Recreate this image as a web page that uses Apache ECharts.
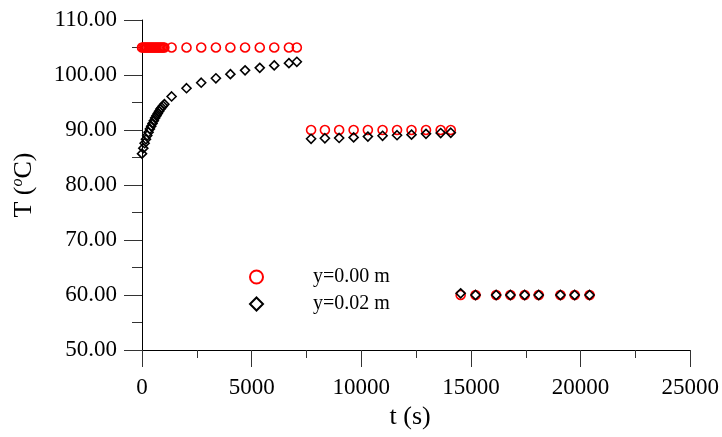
<!DOCTYPE html>
<html>
<head>
<meta charset="utf-8">
<script src="https://cdn.jsdelivr.net/npm/echarts@6/dist/echarts.min.js"></script>
<style>
  html, body { margin: 0; padding: 0; background: #fff; }
  #chart { width: 722px; height: 437px; }
</style>
</head>
<body>
<div id="chart"></div>
<script>
// time (s), shared by both probes
var timeS = [0, 60, 120, 180, 240, 300, 360, 420, 480, 540, 600, 660, 720, 780, 840, 900, 960, 1020,
  1350, 2030, 2700, 3370, 4030, 4700, 5370, 6030, 6700, 7060,
  7710, 8340, 8990, 9650, 10300, 10970, 11630, 12290, 12950, 13620, 14080,
  14530, 15210, 16150, 16800, 17450, 18090, 19080, 19730, 20410];
// temperature at y=0.00 m
var tempY0 = [105, 105, 105, 105, 105, 105, 105, 105, 105, 105, 105, 105, 105, 105, 105, 105, 105, 105,
  105, 105, 105, 105, 105, 105, 105, 105, 105, 105,
  90, 90, 90, 90, 90, 90, 90, 90, 90, 90, 90,
  60, 60, 60, 60, 60, 60, 60, 60, 60];
// temperature at y=0.02 m
var tempY2 = [85.7, 86.7, 87.6, 88.3, 89.0, 89.6, 90.2, 90.7, 91.2, 91.7, 92.2, 92.6, 93.0, 93.4, 93.8, 94.1, 94.4, 94.7,
  96.1, 97.6, 98.6, 99.4, 100.15, 100.85, 101.3, 101.75, 102.15, 102.4,
  88.4, 88.5, 88.55, 88.65, 88.8, 88.95, 89.05, 89.15, 89.3, 89.45, 89.5,
  60.3, 60, 60, 60, 60, 60, 60, 60, 60];
var seriesNames = ['y=0.00 m', 'y=0.02 m'];
var yTicks = [50, 110, 10];
var xTicks = [0, 25000, 5000];

function pairs(xs, ys) {
  var rs = [];
  for (var i = 0; i < xs.length; i++) rs.push([xs[i], ys[i]]);
  return rs;
}

var FONT = '"Liberation Serif", "Times New Roman", serif';
var ec = echarts.init(document.getElementById('chart'));
ec.setOption({
  animation: false,
  textStyle: { fontFamily: FONT },
  grid: { left: 142, right: 30, top: 20, bottom: 87 },
  legend: {
    orient: 'vertical',
    left: 244,
    top: 262,
    itemWidth: 13,
    itemHeight: 13,
    itemGap: 7,
    textStyle: {
      fontFamily: FONT,
      fontSize: 20,
      color: '#000',
      rich: { gap: { width: 45 } }
    },
    formatter: function (name) { return '{gap|}' + name; },
    data: [{ name: seriesNames[0], icon: 'circle' }, { name: seriesNames[1], icon: 'diamond' }]
  },
  xAxis: {
    type: 'value',
    min: xTicks[0],
    max: xTicks[1],
    interval: xTicks[2],
    name: 't (s)',
    nameLocation: 'middle',
    nameGap: 43,
    nameTextStyle: { fontFamily: FONT, fontSize: 26, color: '#000', padding: [0, 12, 0, 0] },
    axisLine: { onZero: false, lineStyle: { color: '#000', width: 1 } },
    axisTick: { length: 17, lineStyle: { color: '#333' } },
    minorTick: { show: true, splitNumber: 2, length: 8, lineStyle: { color: '#333' } },
    splitLine: { show: false },
    axisLabel: {
      margin: 26, fontFamily: FONT, fontSize: 23, color: '#000',
      formatter: function (v) { return String(v); }
    }
  },
  yAxis: {
    type: 'value',
    min: yTicks[0],
    max: yTicks[1],
    interval: yTicks[2],
    name: 'T ({sup|o}C)',
    nameLocation: 'middle',
    nameGap: 104,
    nameTextStyle: {
      fontFamily: FONT, fontSize: 26, color: '#000',
      rich: { sup: { fontFamily: FONT, fontSize: 16, fontStyle: 'italic', color: '#000', padding: [0, 0, 12, 0] } }
    },
    axisLine: { onZero: false, lineStyle: { color: '#000', width: 1 } },
    axisTick: { length: 18, lineStyle: { color: '#333' } },
    minorTick: { show: true, splitNumber: 2, length: 10, lineStyle: { color: '#333' } },
    splitLine: { show: false },
    axisLabel: {
      margin: 25, fontFamily: FONT, fontSize: 23, color: '#000',
      formatter: function (v) { return v.toFixed(2); }
    }
  },
  series: [{
    name: seriesNames[0],
    type: 'scatter',
    symbol: 'circle',
    symbolSize: 9,
    data: pairs(timeS, tempY0),
    itemStyle: { color: 'transparent', borderColor: '#ff0000', borderWidth: 1.6, opacity: 1 }
  }, {
    name: seriesNames[1],
    type: 'scatter',
    symbol: 'diamond',
    symbolSize: 9,
    data: pairs(timeS, tempY2),
    itemStyle: { color: 'transparent', borderColor: '#000', borderWidth: 1.6, opacity: 1 }
  }]
});
</script>
</body>
</html>
